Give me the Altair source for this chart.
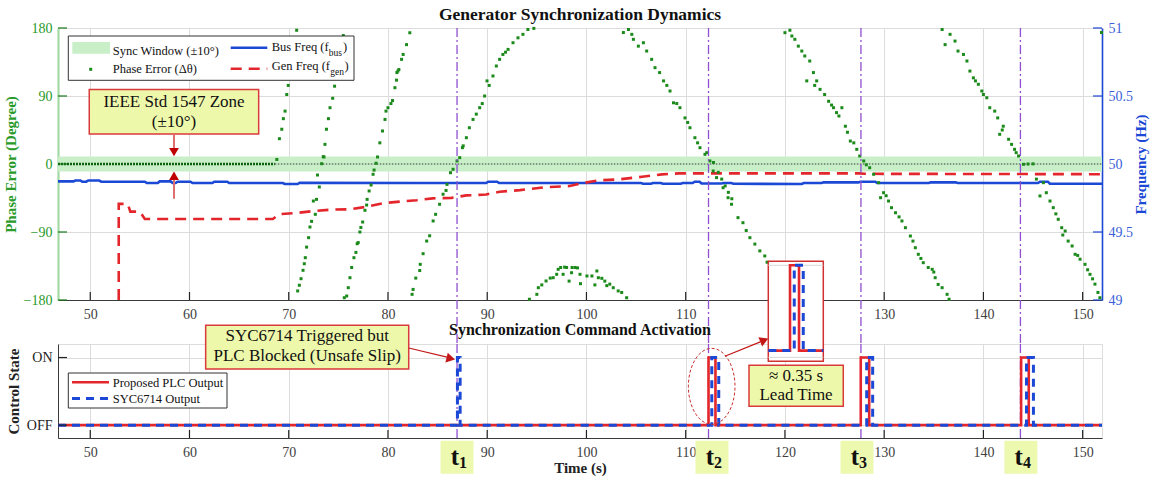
import altair as alt
import pandas as pd

FONT = "Liberation Serif"
X_DOMAIN = [46.75, 151.95]
X_TICKS = [50, 60, 70, 80, 90, 100, 110, 120, 130, 140, 150]
DEG_TICKS = [-180, -90, 0, 90, 180]
FREQ_TICKS = [49, 49.5, 50, 50.5, 51]
STATE_TICKS = [0, 1]

# ---------------- data ----------------
# phase error scatter, (time s, degree), one list per wrap segment
PHASE_A = [(68.8, 6), (69.06, 33.5), (69.3, 46), (69.46, 60), (69.63, 70), (69.8, 92), (69.95, 104),
           (70.1, 118), (70.28, 131), (70.45, 140), (70.64, 145), (70.8, 177)]
PHASE_B = [(70.9, -168), (71.07, -160.5), (71.24, -151.8), (71.44, -140.7), (71.57, -132), (71.67, -124),
           (71.8, -110), (72.0, -97.5), (72.14, -83.4), (72.3, -75.9), (72.48, -49), (72.68, -66.6),
           (72.8, -46.8), (72.9, -14.6), (73.08, -30.4), (73.32, 0.4), (73.48, 9.7), (73.55, 9.3),
           (73.65, 26), (73.8, 46), (74.0, 60), (74.16, 74.5), (74.43, 87), (74.62, 103), (74.85, 121),
           (75.1, 140), (75.3, 156), (75.5, 170)]
PHASE_C = [(75.6, -177), (75.84, -174.7), (76.0, -163.7), (76.17, -150.5), (76.34, -137), (76.57, -124),
           (76.77, -117), (76.9, -105.5), (77.0, -104), (77.17, -90), (77.27, -84), (77.45, -76.8),
           (77.68, -61.3), (77.85, -54.3), (77.9, -46.8), (78.1, -35.7), (78.3, -27.8), (78.5, -13.6),
           (78.6, -8), (78.8, 1), (78.95, 9.3), (79.18, 28), (79.45, 43.7), (79.7, 59), (79.8, 70),
           (80.0, 74.5), (80.3, 80), (80.46, 84), (80.7, 101), (80.86, 111), (80.9, 121), (81.0, 123),
           (81.1, 125), (81.37, 138.5), (81.53, 145), (81.87, 158), (82.2, 173.7)]
PHASE_D = [(82.43, -172.5), (82.53, -166), (82.8, -151), (83.2, -141), (83.25, -132.8), (83.54, -118.7),
           (83.9, -102), (84.2, -95), (84.55, -75.4), (84.8, -66.6), (85.2, -53.3), (85.55, -40),
           (85.85, -35), (85.95, -27), (86.3, -11.5), (86.56, -7), (86.96, 4), (87.23, 8.4), (87.5, 21.6),
           (87.58, 24), (87.9, 34.8), (88.2, 48), (88.57, 59), (88.9, 66), (89.24, 74.5), (89.5, 80),
           (89.74, 90), (89.98, 110), (90.2, 104), (90.58, 116.5), (90.92, 129.7), (91.25, 138.5),
           (91.58, 145), (91.85, 148), (92.1, 151.7), (92.6, 160.5), (93.1, 167), (93.6, 171.6),
           (94.1, 178), (94.7, 179.5)]
PHASE_DOME = [(94.25, -179), (95.0, -172.5), (95.15, -163.7), (95.5, -160), (95.93, -154.8), (96.35, -151),
              (96.65, -150.5), (97.0, -146), (97.15, -139.4), (97.4, -137), (97.65, -146), (97.8, -136.5),
              (98.0, -137), (98.25, -155), (98.5, -143.9), (98.55, -137), (98.85, -137), (99.1, -137.5),
              (99.35, -146), (99.4, -158.4), (100.05, -148.2), (100.55, -148.2), (100.85, -160),
              (101.05, -141.6), (101.2, -150.5), (101.55, -151.3), (101.85, -155), (102.05, -161),
              (102.35, -159), (102.7, -163.7), (103.2, -168), (103.55, -170), (104.05, -177)]
PHASE_E = [(103.72, 174), (104.23, 178), (104.57, 171.6), (104.73, 165), (105.23, 156), (105.74, 160.5),
           (106.07, 149.5), (106.57, 138.5), (106.91, 127.5), (107.37, 121), (107.77, 110), (108.1, 104),
           (108.42, 96.6), (108.77, 81), (109.1, 80), (109.42, 74.5), (109.93, 61), (110.2, 55),
           (110.43, 48), (110.93, 34.8), (111.2, 28), (111.44, 21.6), (111.94, 12.8), (112.12, 15),
           (112.44, 4), (112.77, -9.3), (112.8, 2), (113.11, -18), (113.28, -11), (113.63, -20),
           (113.77, -31.4), (113.98, -29), (114.27, -44.6), (114.3, -37.5), (114.62, -53.3), (114.65, -46),
           (115.27, -71), (115.77, -77.7), (116.1, -88), (116.47, -97.5), (116.97, -106), (117.47, -115),
           (117.97, -121.7), (118.2, -130), (118.6, -140), (119.0, -150), (119.4, -160), (119.8, -170)]
PHASE_F = [(120.0, 173.8), (120.5, 177), (120.7, 169.4), (121.0, 165), (121.35, 156), (121.7, 149.5),
           (122.0, 143), (122.2, 110), (122.5, 136.3), (122.87, 121), (123.0, 104), (123.2, 110),
           (123.54, 98.8), (124.0, 92), (124.4, 83), (124.7, 78), (124.9, 74.5), (125.2, 68), (125.44, 63.5),
           (125.74, 74.5), (126.09, 50), (126.3, 42), (126.59, 30.4), (126.94, 28), (127.24, 19.4),
           (127.54, 10.6), (127.94, 4), (128.2, -1), (128.54, -4.9), (128.94, -13.6), (129.44, -24.7),
           (129.64, -44.6), (129.94, -38), (130.2, -42), (130.44, -49), (130.74, -57.8), (131.14, -64.5),
           (131.5, -70), (131.79, -75.4), (132.14, -84.3), (132.64, -95.3), (132.9, -102), (133.14, -110.8),
           (133.44, -119.5), (133.7, -125), (133.94, -130.6), (134.44, -137), (134.84, -139.4), (135.0, -143),
           (135.14, -150.5), (135.44, -159.4), (135.84, -163.7), (136.34, -172.5), (136.54, -179)]
PHASE_G = [(135.84, 178), (136.14, 158), (136.64, 171.6), (137.14, 162.7), (137.44, 149.5), (137.99, 145),
           (138.34, 136.3), (138.64, 123), (138.99, 114), (139.2, 110), (139.49, 105.5), (139.84, 96.6),
           (140.0, 92), (140.34, 87.7), (140.64, 74.5), (141.14, 70), (141.44, 61), (141.64, 39.3),
           (141.9, 45), (142.0, 50), (142.54, 32.7), (142.84, 26), (143.14, 19.4), (143.3, 15), (143.54, 10.6),
           (144.04, -0.4), (144.5, 0), (145.0, 0.2), (145.34, -20), (145.7, -42.3), (146.04, -24.7),
           (146.34, -38), (146.71, -49), (147.04, -57.8), (147.3, -66), (147.54, -73.2), (147.89, -84.3),
           (148.0, -94), (148.24, -88.7), (148.54, -102), (148.94, -108.5), (149.24, -119.5), (149.5, -121),
           (149.74, -126), (150.24, -132.8), (150.5, -140), (150.74, -146), (151.0, -152), (151.24, -159),
           (151.54, -170), (151.74, -177), (151.9, 174)]
PRESYNC_END = 68.6          # phase error sits on 0 deg until here
SYNC_WINDOW = 10            # +/- degrees

# frequencies (time s, Hz)
BUS_FREQ = [(46.75, 49.872), (48.3, 49.872), (48.5, 49.879), (49.0, 49.879), (49.2, 49.870), (49.6, 49.870),
            (49.8, 49.879), (50.9, 49.879), (51.1, 49.870), (55.5, 49.870), (55.7, 49.860), (56.8, 49.860),
            (57.0, 49.872), (58.1, 49.872), (58.3, 49.860), (58.6, 49.860), (58.8, 49.870), (60.1, 49.870),
            (60.3, 49.860), (62.3, 49.860), (62.5, 49.870), (63.8, 49.870), (64.0, 49.860), (69.4, 49.860),
            (69.6, 49.853), (70.9, 49.853), (71.1, 49.862), (83.2, 49.860), (89.9, 49.860), (90.1, 49.870),
            (91.0, 49.870), (91.2, 49.860), (105.5, 49.860), (105.7, 49.855), (106.5, 49.855), (106.7, 49.860),
            (107.5, 49.860), (107.7, 49.855), (109.5, 49.855), (109.7, 49.860), (110.7, 49.860), (110.9, 49.870),
            (111.4, 49.870), (111.6, 49.857), (113.6, 49.857), (113.8, 49.860), (114.6, 49.860), (114.8, 49.855),
            (121.7, 49.853), (121.9, 49.860), (123.7, 49.860), (123.9, 49.865), (127.4, 49.865), (127.6, 49.870),
            (129.1, 49.870), (129.3, 49.860), (134.5, 49.860), (134.7, 49.865), (137.2, 49.865), (137.4, 49.860),
            (145.5, 49.860), (145.7, 49.870), (146.5, 49.870), (146.7, 49.855), (151.95, 49.855)]
GEN_FREQ = [(52.87, 49.0), (52.87, 49.707), (53.77, 49.707), (54.04, 49.65), (55.0, 49.65), (55.5, 49.596),
            (68.4, 49.596), (69.1, 49.632), (70.8, 49.64), (72.6, 49.655), (74.4, 49.665), (76.2, 49.667),
            (77.8, 49.685), (79.5, 49.712), (81.4, 49.725), (82.9, 49.734), (84.5, 49.747), (86.4, 49.751),
            (87.9, 49.769), (89.9, 49.776), (91.25, 49.796), (93.3, 49.808), (95.9, 49.83), (98.3, 49.838),
            (99.8, 49.862), (101.3, 49.88), (103.3, 49.887), (105.6, 49.906), (107.6, 49.924), (109.3, 49.931),
            (127.5, 49.931), (128.0, 49.928), (151.95, 49.925)]

# event instants and label spots (s)
T_EVENTS = [86.96, 112.3, 127.66, 143.73]
T_LABEL_AT = [86.96, 112.65, 127.26, 143.78]
T_NAMES = ["1", "2", "3", "4"]

# control outputs as change points (time s, state 0=OFF 1=ON)
PLC_OUT = [(46.75, 0), (112.3, 1), (113.0, 0), (127.64, 1), (128.49, 0), (143.8, 1), (144.57, 0), (151.95, 0)]
SYC_OUT = [(46.75, 0), (87.0, 1), (87.27, 0), (112.63, 1), (113.33, 0), (128.24, 1), (128.84, 0),
           (144.34, 1), (145.04, 0), (151.95, 0)]
INSET_T = [110.61, 114.89]

# ---------------- styles ----------------
GREEN_DOT = "#1b8a1b"
GREEN_DARK = "#0d5e0d"
GREEN_TXT = "#2a9a2a"
GREEN_AXIS = "#a3d9a3"
BAND = "#c9efc9"
BLUE = "#1b48d4"
RED = "#e3262b"
PURPLE = "#8f4fd0"
BOX_FILL = "#eef8ab"
BOX_STROKE = "#d93a3a"
ARROW = "#c41818"
GRID = "#dcdcdc"
TOP_W, TOP_H, BOT_H = 1044, 272, 94


def df_pairs(pairs, a, b):
    return pd.DataFrame({a: [p[0] for p in pairs], b: [p[1] for p in pairs]})


phase_df = pd.concat([df_pairs(s, "t", "deg") for s in
                      [PHASE_A, PHASE_B, PHASE_C, PHASE_D, PHASE_DOME, PHASE_E, PHASE_F, PHASE_G]])
bus_df = df_pairs(BUS_FREQ, "t", "f")
gen_df = df_pairs(GEN_FREQ, "t", "f")
gen_df["i"] = range(len(gen_df))
plc_df = df_pairs(PLC_OUT, "t", "s")
syc_df = df_pairs(SYC_OUT, "t", "s")
tev_df = pd.DataFrame({"t": T_EVENTS})
tlab_df = pd.DataFrame({"t": T_LABEL_AT, "n": T_NAMES})
xt_df = pd.DataFrame({"t": X_TICKS})
degt_df = pd.DataFrame({"deg": DEG_TICKS})
ft_df = pd.DataFrame({"f": FREQ_TICKS})
st_df = pd.DataFrame({"s": STATE_TICKS})


def clip_steps(pairs, lo, hi):
    start = [s for t, s in pairs if t <= lo][-1]
    inner = [(t, s) for t, s in pairs if lo < t < hi]
    return df_pairs([(lo, start)] + inner + [(hi, 0)], "t", "s")


inset_plc = clip_steps(PLC_OUT, *INSET_T)
inset_syc = clip_steps(SYC_OUT, *INSET_T)

XAX = dict(values=X_TICKS, format="d", grid=True, gridColor=GRID, domainColor="#3a3a3a", domainWidth=1,
           labelColor="#404040", labelFontSize=14, labelFont=FONT, labelPadding=7, ticks=False, tickSize=0)


def xenc(field, title=None):
    ax = alt.Axis(title=title, titleFontSize=15, titleFontWeight="bold", titleColor="#222",
                  titlePadding=1, titleFont=FONT, **XAX)
    return alt.X(f"{field}:Q", scale=alt.Scale(domain=X_DOMAIN, nice=False, zero=False), axis=ax)


DEG_AXIS = alt.Axis(orient="left", values=DEG_TICKS, format="d", grid=True, gridColor=GRID,
                    domainColor=GREEN_AXIS, domainWidth=2.2, labelColor=GREEN_TXT, labelFontSize=14,
                    labelFont=FONT, labelPadding=6, ticks=False, tickSize=0, title="Phase Error (Degree)",
                    titleColor=GREEN_TXT, titleFontSize=15, titleFontWeight="bold", titleFont=FONT,
                    titlePadding=5)
FREQ_AXIS = alt.Axis(orient="right", values=FREQ_TICKS, format="~g", grid=False,
                     domainColor=BLUE, domainWidth=1.6, labelColor="#3a5fd8", labelFontSize=14, labelFont=FONT,
                     labelPadding=6, ticks=False, tickSize=0, title="Frequency (Hz)", titleColor=BLUE,
                     titleFontSize=15, titleFontWeight="bold", titleFont=FONT, titleAngle=270,
                     titleBaseline="top", titlePadding=1)


def degenc(field):
    return alt.Y(f"{field}:Q", scale=alt.Scale(domain=[-180, 180], nice=False, zero=False), axis=DEG_AXIS)


def fenc(field):
    return alt.Y(f"{field}:Q", scale=alt.Scale(domain=[49, 51], nice=False, zero=False), axis=FREQ_AXIS)


def ptext(txt, x, y, size=12.5, align="left", **kw):
    return alt.Chart().mark_text(text=txt, font=FONT, fontSize=size, align=align, baseline="alphabetic",
                                 color="#111", **kw).encode(x=alt.value(x), y=alt.value(y))


# ---------------- top panel ----------------
band = alt.Chart(pd.DataFrame({"t0": [X_DOMAIN[0]], "t1": [X_DOMAIN[1]], "lo": [-SYNC_WINDOW],
                               "hi": [SYNC_WINDOW]})).mark_rect(color=BAND, opacity=1).encode(
    x=xenc("t0"), x2="t1", y=degenc("lo"), y2="hi")
zero_dot = alt.Chart(pd.DataFrame({"t0": [PRESYNC_END], "t1": [X_DOMAIN[1]], "d": [0]})).mark_rule(
    color="#3a3a3a", strokeWidth=1, strokeDash=[1.5, 1.5]).encode(x=xenc("t0"), x2="t1", y=degenc("d"))
presync = alt.Chart(pd.DataFrame({"t0": [X_DOMAIN[0]], "t1": [PRESYNC_END], "d": [0]})).mark_rule(
    color=GREEN_DARK, strokeWidth=2.4, strokeDash=[2, 1]).encode(x=xenc("t0"), x2="t1", y=degenc("d"))
dots = alt.Chart(phase_df).mark_square(size=9, color=GREEN_DOT, opacity=1).encode(
    x=xenc("t"), y=degenc("deg"))
tl_top = alt.Chart(tev_df).mark_rule(color=PURPLE, strokeWidth=1.3, strokeDash=[9, 3, 2, 3]).encode(
    x=xenc("t"), y=alt.value(0), y2=alt.value(316))

# inward tick marks (MATLAB style)
xtick_top = alt.Chart(xt_df).mark_rule(color="#222", strokeWidth=1.2).encode(
    x=xenc("t"), y=alt.value(TOP_H - 8), y2=alt.value(TOP_H))
degtick = alt.Chart(degt_df).mark_rule(color="#1a7a1a", strokeWidth=1.2).encode(
    y=degenc("deg"), x=alt.value(0), x2=alt.value(9))
ftick = alt.Chart(ft_df).mark_rule(color=BLUE, strokeWidth=1.2).encode(
    y=fenc("f"), x=alt.value(TOP_W - 9), x2=alt.value(TOP_W))

# legend (pixel positions inside plot)
lg_box = alt.Chart().mark_rect(fill="white", stroke="#333", strokeWidth=1).encode(
    x=alt.value(10.3), x2=alt.value(296), y=alt.value(8), y2=alt.value(52.3))
lg_sw = alt.Chart().mark_rect(fill=BAND).encode(
    x=alt.value(14.3), x2=alt.value(52), y=alt.value(14), y2=alt.value(25.7))
lg_dot = alt.Chart().mark_square(size=9, color=GREEN_DOT, opacity=1).encode(x=alt.value(32.7), y=alt.value(41.3))
lg_bus = alt.Chart().mark_rule(color=BLUE, strokeWidth=2.6).encode(
    x=alt.value(172.7), x2=alt.value(209.3), y=alt.value(19.7))
lg_gen = alt.Chart().mark_rule(color=RED, strokeWidth=2.6, strokeDash=[11, 7]).encode(
    x=alt.value(172.7), x2=alt.value(209.3), y=alt.value(40.7))

lg_texts = [ptext("Sync Window (±10°)", 54.7, 27), ptext("Phase Error (Δθ)", 54.7, 44.7),
            ptext("Bus Freq (f", 213.7, 23), ptext("bus", 270.8, 27.5, size=9.5), ptext(")", 285, 23),
            ptext("Gen Freq (f", 213.7, 42.3), ptext("gen", 272.2, 46.8, size=9.5), ptext(")", 286.6, 42.3)]
top_title = ptext("Generator Synchronization Dynamics", TOP_W / 2, -8.5, size=17.5, align="center",
                  fontWeight="bold")

ieee_box = alt.Chart(pd.DataFrame({"t0": [49.9], "t1": [66.97], "d0": [39.7], "d1": [98.7]})).mark_rect(
    fill=BOX_FILL, stroke=BOX_STROKE, strokeWidth=1.5).encode(x=xenc("t0"), x2="t1", y=degenc("d0"), y2="d1")
ieee_text = alt.Chart(pd.DataFrame({"t": [58.44, 58.44], "deg": [82.4, 55.0],
                                    "label": ["IEEE Std 1547 Zone", "(±10°)"]})).mark_text(
    font=FONT, fontSize=17, color="#111", baseline="middle").encode(x=xenc("t"), y=degenc("deg"), text="label:N")
ieee_lines = alt.Chart(pd.DataFrame({"t": [58.44, 58.44], "d0": [39.7, -15.6], "d1": [15.7, -46]})).mark_rule(
    color="#e07070", strokeWidth=2).encode(x=xenc("t"), y=degenc("d0"), y2="d1")
ieee_down = alt.Chart(pd.DataFrame({"t": [58.44], "d": [15.7]})).mark_point(
    shape="triangle-down", filled=True, size=95, color="#c00000", opacity=1).encode(x=xenc("t"), y=degenc("d"))
ieee_up = alt.Chart(pd.DataFrame({"t": [58.44], "d": [-15.6]})).mark_point(
    shape="triangle-up", filled=True, size=95, color="#c00000", opacity=1).encode(x=xenc("t"), y=degenc("d"))

bus = alt.Chart(bus_df).mark_line(color=BLUE, strokeWidth=2.6).encode(x=xenc("t"), y=fenc("f"))
gen = alt.Chart(gen_df).mark_line(color=RED, strokeWidth=2.6, strokeDash=[11, 7]).encode(
    x=xenc("t"), y=fenc("f"), order="i:Q")

deg_layer = alt.layer(band, zero_dot, presync, dots, tl_top, xtick_top, degtick, lg_box, lg_sw, lg_dot, lg_bus,
                      lg_gen, *lg_texts, ieee_box, ieee_text, ieee_lines, ieee_down, ieee_up, top_title)
top = alt.layer(alt.layer(bus, gen, ftick), deg_layer).resolve_scale(y="independent").properties(
    width=TOP_W, height=TOP_H)

# ---------------- bottom panel ----------------
S_AXIS = alt.Axis(values=STATE_TICKS, labelExpr="datum.value == 1 ? 'ON' : 'OFF'", grid=True, gridColor=GRID,
                  domainColor="#3a3a3a", labelColor="#222", labelFontSize=14, labelFont=FONT, labelPadding=6,
                  ticks=False, tickSize=0, title="Control State", titleFontSize=15, titleFontWeight="bold",
                  titleFont=FONT, titleColor="#222", titlePadding=5)


def senc(field):
    return alt.Y(f"{field}:Q", scale=alt.Scale(domain=[-0.19, 1.2], nice=False, zero=False), axis=S_AXIS)


def bx(field):
    return xenc(field, title="Time (s)")


tl_bot = alt.Chart(tev_df).mark_rule(color=PURPLE, strokeWidth=1.3, strokeDash=[9, 3, 2, 3]).encode(x=bx("t"))
plc = alt.Chart(plc_df).mark_line(color=RED, strokeWidth=2.6, interpolate="step-after").encode(
    x=bx("t"), y=senc("s"))
syc = alt.Chart(syc_df).mark_line(color=BLUE, strokeWidth=3, strokeDash=[8, 6], interpolate="step-after").encode(
    x=bx("t"), y=senc("s"))
xtick_bot = alt.Chart(xt_df).mark_rule(color="#222", strokeWidth=1.2).encode(
    x=bx("t"), y=alt.value(BOT_H - 8), y2=alt.value(BOT_H))
stick = alt.Chart(st_df).mark_rule(color="#222", strokeWidth=1.2).encode(
    y=senc("s"), x=alt.value(0), x2=alt.value(9))

lgb_box = alt.Chart().mark_rect(fill="white", stroke="#333", strokeWidth=1).encode(
    x=alt.value(10.3), x2=alt.value(169), y=alt.value(29), y2=alt.value(64))
lgb_red = alt.Chart().mark_rule(color=RED, strokeWidth=2.6).encode(
    x=alt.value(14), x2=alt.value(51), y=alt.value(38.3))
lgb_blue = alt.Chart().mark_rule(color=BLUE, strokeWidth=3, strokeDash=[8, 6]).encode(
    x=alt.value(14), x2=alt.value(51), y=alt.value(54.6))
lgb_texts = [ptext("Proposed PLC Output", 54.7, 42.5), ptext("SYC6714 Output", 54.7, 58.8)]
bot_title = ptext("Synchronization Command Activation", TOP_W / 2, -9, size=16, align="center", fontWeight="bold")

syc_box = alt.Chart(pd.DataFrame({"t0": [61.63], "t1": [82.09], "s0": [0.83], "s1": [1.476]})).mark_rect(
    fill=BOX_FILL, stroke=BOX_STROKE, strokeWidth=1.5).encode(x=bx("t0"), x2="t1", y=senc("s0"), y2="s1")
syc_text = alt.Chart(pd.DataFrame({"t": [71.86, 71.86], "s": [1.314, 1.018],
                                   "label": ["SYC6714 Triggered but", "PLC Blocked (Unsafe Slip)"]})).mark_text(
    font=FONT, fontSize=17, color="#111", baseline="middle").encode(x=bx("t"), y=senc("s"), text="label:N")
syc_arrow = alt.Chart(pd.DataFrame({"t0": [82.09], "t1": [86.05], "s0": [1.1405], "s1": [1.003]})).mark_rule(
    color=ARROW, strokeWidth=1.2).encode(x=bx("t0"), x2="t1", y=senc("s0"), y2="s1")
syc_head = alt.Chart(pd.DataFrame({"t": [86.33], "s": [0.984]})).mark_point(
    shape="triangle-right", angle=13.5, filled=True, size=100, color=ARROW, opacity=1).encode(
    x=bx("t"), y=senc("s"))

ELLIPSE = ("M 0 -1 C 0.3386 -1 0.613 -0.5523 0.613 0 C 0.613 0.5523 0.3386 1 0 1 "
           "C -0.3386 1 -0.613 0.5523 -0.613 0 C -0.613 -0.5523 -0.3386 -1 0 -1 Z")
ellipse = alt.Chart(pd.DataFrame({"t": [112.62], "s": [0.574]})).mark_point(
    shape=ELLIPSE, size=5776, filled=False, stroke="#c83030", strokeWidth=1, strokeDash=[3, 2], opacity=1).encode(
    x=bx("t"), y=senc("s"))
ell_arrow = alt.Chart(pd.DataFrame({"t0": [113.96], "t1": [117.52], "s0": [1.018], "s1": [1.231]})).mark_rule(
    color=ARROW, strokeWidth=1.2).encode(x=bx("t0"), x2="t1", y=senc("s0"), y2="s1")
ell_head = alt.Chart(pd.DataFrame({"t": [117.92], "s": [1.256]})).mark_point(
    shape="triangle-right", angle=337.8, filled=True, size=100, color=ARROW, opacity=1).encode(
    x=bx("t"), y=senc("s"))

lead_box = alt.Chart(pd.DataFrame({"t0": [116.38], "t1": [125.88], "s0": [0.278], "s1": [0.885]})).mark_rect(
    fill=BOX_FILL, stroke=BOX_STROKE, strokeWidth=1.5).encode(x=bx("t0"), x2="t1", y=senc("s0"), y2="s1")
lead_text = alt.Chart(pd.DataFrame({"t": [121.12, 121.12], "s": [0.732, 0.441],
                                    "label": ["≈ 0.35 s", "Lead Time"]})).mark_text(
    font=FONT, fontSize=17, color="#111", baseline="middle").encode(x=bx("t"), y=senc("s"), text="label:N")

t_box = alt.Chart(tlab_df).mark_point(shape="square", filled=True, size=1090, color="#eef9b0", opacity=1,
                                      strokeWidth=0).encode(x=bx("t"), y=alt.value(113.3))
t_main = alt.Chart(tlab_df).mark_text(text="t", font=FONT, fontSize=25, fontWeight="bold", align="right",
                                      baseline="alphabetic", dx=2, color="#111").encode(x=bx("t"), y=alt.value(120.8))
t_sub = alt.Chart(tlab_df).mark_text(font=FONT, fontSize=16, fontWeight="bold", align="left",
                                     baseline="alphabetic", dx=2, color="#111").encode(
    x=bx("t"), y=alt.value(123.5), text="n:N")

bottom_main = alt.layer(tl_bot, plc, syc, xtick_bot, stick, lgb_box, lgb_red, lgb_blue, *lgb_texts, syc_box,
                        syc_text, syc_arrow, syc_head, ellipse, ell_arrow, ell_head, lead_box, lead_text, t_box,
                        t_main, t_sub, bot_title)

# inset: zoomed copy of the t2 pulses
ix = lambda f: alt.X(f"{f}:Q", scale=alt.Scale(domain=INSET_T, range=[710.3, 765.3], nice=False, zero=False),
                     axis=None)
iy = lambda f: alt.Y(f"{f}:Q", scale=alt.Scale(domain=[0, 1], range=[6.6, -78.7], nice=False, zero=False),
                     axis=None)
in_box = alt.Chart(pd.DataFrame({"t0": [INSET_T[0]], "t1": [INSET_T[1]], "s0": [-0.125], "s1": [1.047]})).mark_rect(
    fill="white", stroke="#d03030", strokeWidth=1.5).encode(x=ix("t0"), x2="t1", y=iy("s0"), y2="s1")
in_grid = alt.Chart(pd.DataFrame({"t0": [INSET_T[0]] * 2, "t1": [INSET_T[1]] * 2, "s": [1, -0.079]})).mark_rule(
    color="#d6d6d6", strokeWidth=1).encode(x=ix("t0"), x2="t1", y=iy("s"))
in_plc = alt.Chart(inset_plc).mark_line(color=RED, strokeWidth=2.6, interpolate="step-after").encode(
    x=ix("t"), y=iy("s"))
in_syc = alt.Chart(inset_syc).mark_line(color=BLUE, strokeWidth=3, strokeDash=[8, 6],
                                        interpolate="step-after").encode(x=ix("t"), y=iy("s"))
inset = alt.layer(in_box, in_grid, in_plc, in_syc)

bottom = alt.layer(bottom_main, inset).resolve_scale(x="independent", y="independent").properties(
    width=TOP_W, height=BOT_H)

chart = alt.vconcat(top, bottom, spacing=44, bounds="flush").properties(
    padding={"left": 2, "top": 5, "right": 2, "bottom": 2}, background="white"
).configure_view(stroke=None).configure(font=FONT)

chart.save("out.html", embed_options={"renderer": "svg", "actions": False})
